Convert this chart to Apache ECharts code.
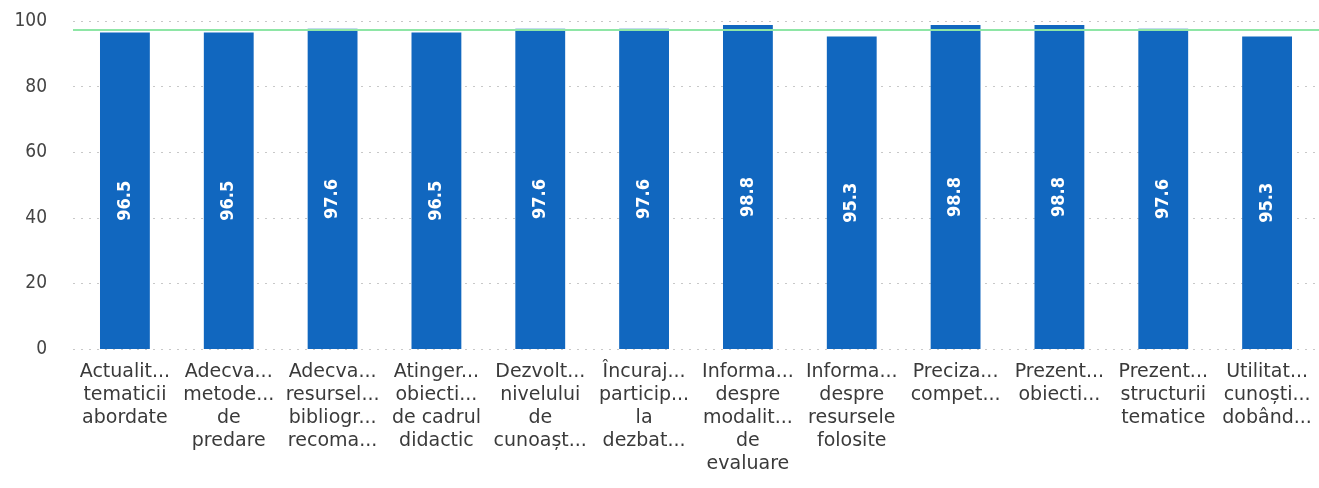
<!DOCTYPE html>
<html><head><meta charset="utf-8">
<script src="https://cdn.jsdelivr.net/npm/echarts@6/dist/echarts.min.js"></script>
<style>html,body{margin:0;padding:0;background:#fff}#c{width:1319px;height:488px}</style>
</head><body><div id="c"></div>
<script>
const categories = [
  "Actualit...\ntematicii\nabordate",
  "Adecva...\nmetode...\nde\npredare",
  "Adecva...\nresursel...\nbibliogr...\nrecoma...",
  "Atinger...\nobiecti...\nde cadrul\ndidactic",
  "Dezvolt...\nnivelului\nde\ncunoașt...",
  "Încuraj...\nparticip...\nla\ndezbat...",
  "Informa...\ndespre\nmodalit...\nde\nevaluare",
  "Informa...\ndespre\nresursele\nfolosite",
  "Preciza...\ncompet...",
  "Prezent...\nobiecti...",
  "Prezent...\nstructurii\ntematice",
  "Utilitat...\ncunoști...\ndobând..."
];
const values = [96.5, 96.5, 97.6, 96.5, 97.6, 97.6, 98.8, 95.3, 98.8, 98.8, 97.6, 95.3];
const yTicks = [0, 20, 40, 60, 80, 100];

const chart = echarts.init(document.getElementById('c'), null, {renderer: 'canvas'});
chart.setOption({
  animation: false,
  grid: {left: 73, right: -8, top: 21, bottom: 139},
  xAxis: {
    type: 'category',
    data: categories,
    axisLine: {show: false},
    axisTick: {show: false},
    axisLabel: {interval: 0, color: '#3a3a3a', fontFamily: 'DejaVu Sans', fontSize: 19, lineHeight: 23, margin: 12}
  },
  yAxis: {
    type: 'value',
    min: yTicks[0], max: yTicks[yTicks.length - 1], interval: 20,
    axisLine: {show: false},
    axisTick: {show: false},
    axisLabel: {color: '#444', fontFamily: 'DejaVu Sans Condensed', fontSize: 19, margin: 26},
    splitLine: {lineStyle: {type: [2, 6], color: '#c8c8c8', width: 1}}
  },
  series: [{
    type: 'bar',
    data: values,
    barWidth: '48%',
    itemStyle: {color: '#1167bf'},
    label: {
      show: true, position: 'inside', rotate: 90, offset: [-10, 0],
      color: '#fff', fontFamily: 'DejaVu Sans Condensed', fontWeight: 'bold', fontSize: 18,
      formatter: p => p.value.toFixed(1)
    },
    markLine: {
      silent: true, symbol: 'none',
      label: {show: false},
      lineStyle: {color: '#8ee6a6', type: 'solid', width: 2},
      data: [{type: 'average'}]
    }
  }]
});
</script></body></html>
